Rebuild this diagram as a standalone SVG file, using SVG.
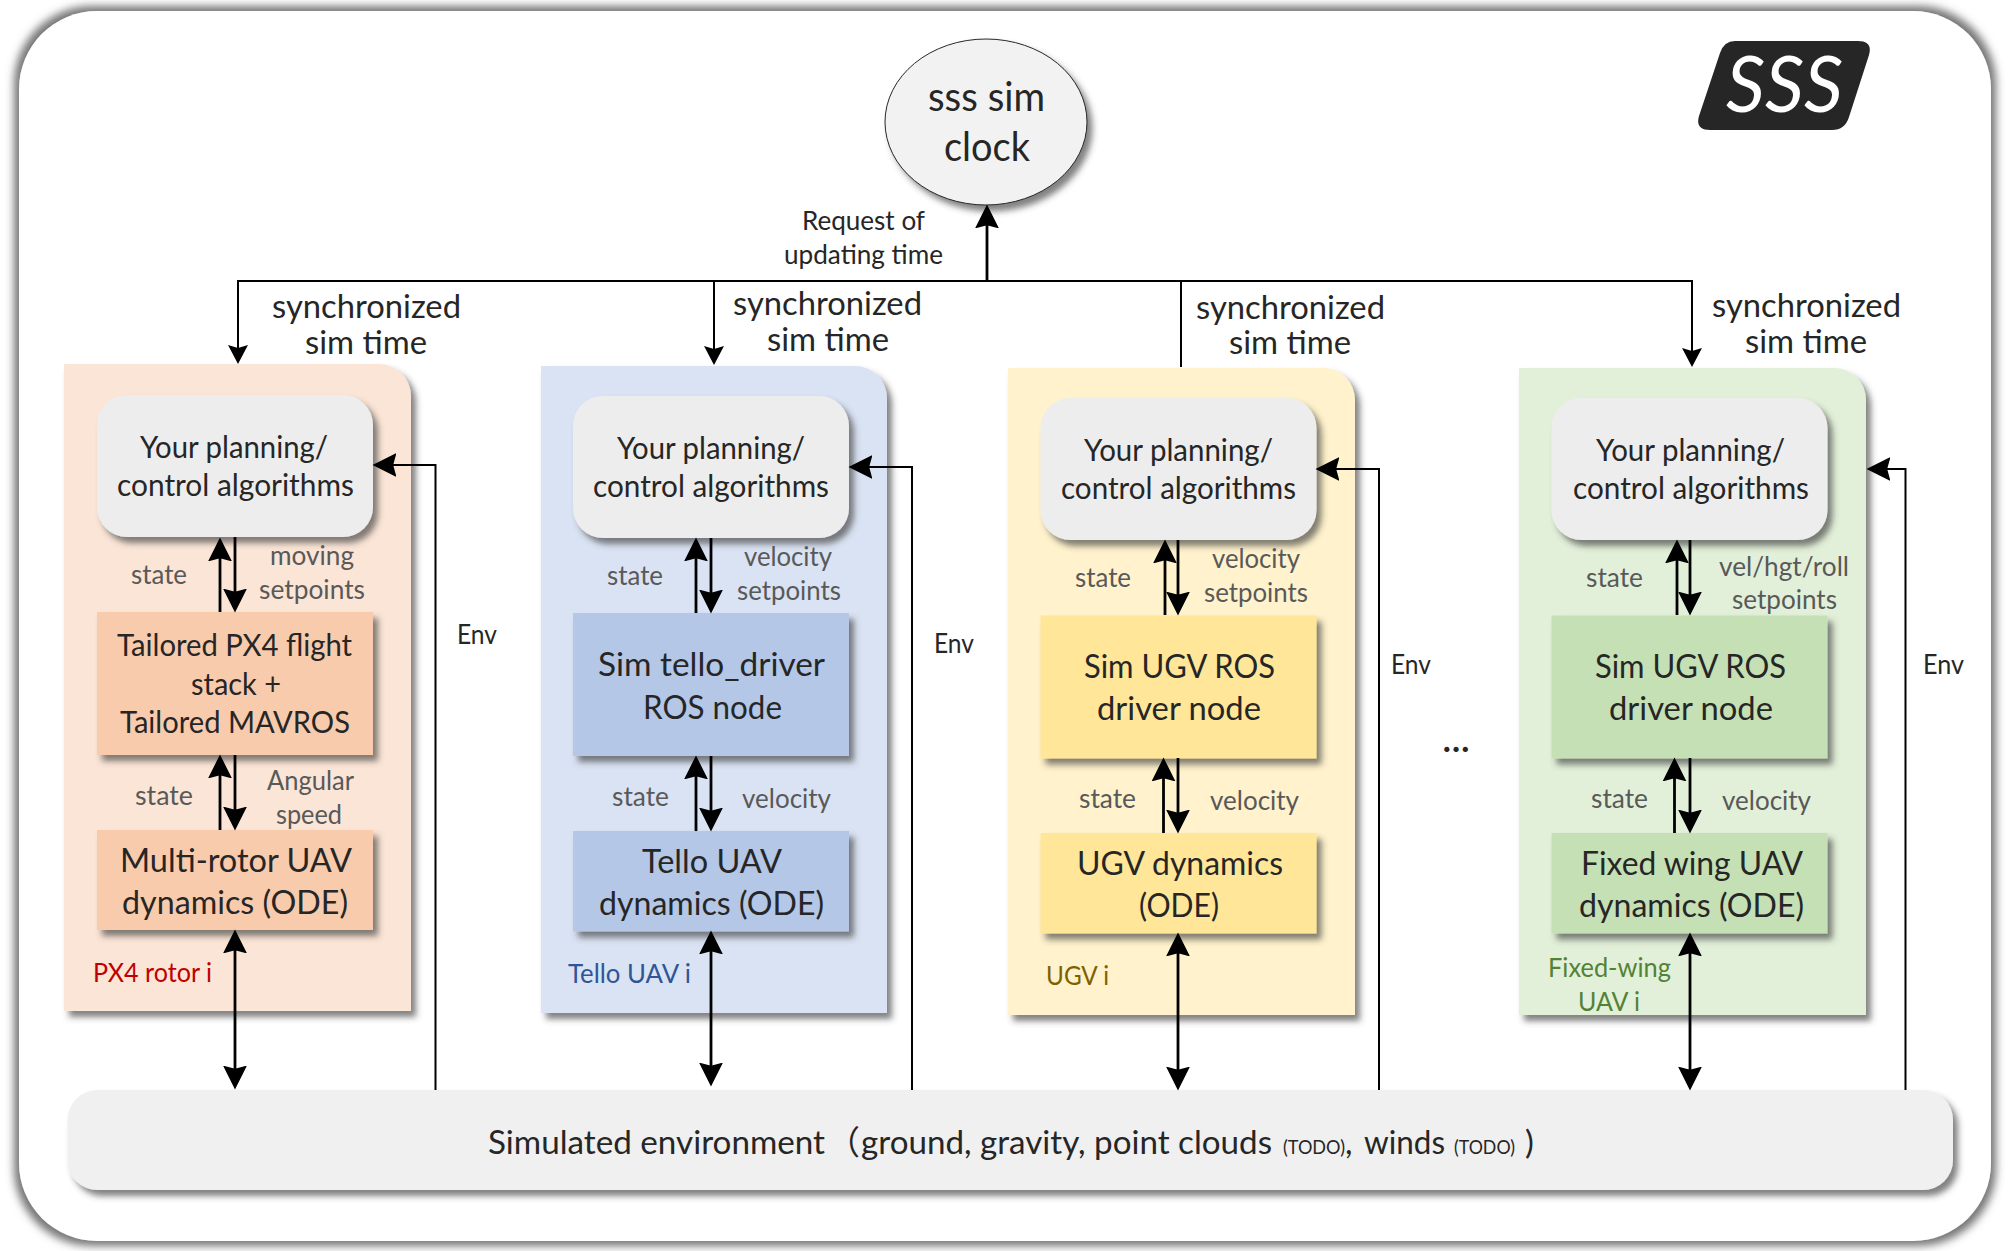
<svg xmlns="http://www.w3.org/2000/svg" width="2009" height="1251" viewBox="0 0 2009 1251">
<style>
text{font-family:Lato,"Noto Sans CJK SC",sans-serif;fill:#262626;transform:translateY(1px)}
.clk{font-size:40px}
.req{font-size:26.5px}
.syn{font-size:32.5px}
.alg{font-size:30.5px}
.lbl{font-size:27px;fill:#595959}
.box{font-size:33.5px}
.tl{font-size:31px}
.env{font-size:26px}
.tag{font-size:26.5px}
.bot{font-size:33px}
.todo{font-size:19px}
.sh{filter:url(#sh)}
.alg-box{fill:#ededed}
.thin{fill:none;stroke:#000;stroke-width:2}
.bold{fill:none;stroke:#000;stroke-width:2.8}
.a{marker-end:url(#big)}
.b{marker-end:url(#big);marker-start:url(#big)}
.s{marker-end:url(#small)}
</style>
<defs>
<filter id="outer" x="-3%" y="-3%" width="106%" height="106%"><feMorphology in="SourceAlpha" operator="dilate" radius="5" result="d"/><feGaussianBlur in="d" stdDeviation="4" result="b"/><feFlood flood-color="#6e6e6e" flood-opacity="0.95"/><feComposite in2="b" operator="in" result="s"/><feMerge><feMergeNode in="s"/><feMergeNode in="SourceGraphic"/></feMerge></filter>
<filter id="sh" x="-10%" y="-10%" width="125%" height="125%"><feDropShadow dx="5" dy="6" stdDeviation="3" flood-color="#404040" flood-opacity="0.65"/></filter>
<marker id="big" markerUnits="userSpaceOnUse" markerWidth="24" markerHeight="24" viewBox="0 0 22 22" refX="16" refY="11" orient="auto-start-reverse"><path d="M0 0L22 11L0 22L3 11z" fill="#000"/></marker>
<marker id="small" markerUnits="userSpaceOnUse" markerWidth="20" markerHeight="20" viewBox="0 0 19 20" refX="13" refY="10" orient="auto"><path d="M0 0L19 10L0 20L3 10z" fill="#000"/></marker>
</defs>

<rect id="frame" x="19" y="11" width="1972" height="1230" rx="78" fill="#fff" filter="url(#outer)"/>

<g id="logo">
<path d="M1735 41H1858Q1873 41 1869 55L1849 117Q1845 130 1832 130H1710Q1695 130 1699 116L1720 53Q1724 41 1735 41z" fill="#262626"/>
<text x="1726" y="111" font-size="78" font-style="italic" textLength="117" lengthAdjust="spacingAndGlyphs" style="fill:#fff">SSS</text>
</g>

<g id="clock">
<ellipse class="sh" cx="986" cy="122" rx="101" ry="83" fill="#f2f2f2" stroke="#262626" stroke-width="1"/>
<text class="clk" x="928" y="110" textLength="117" lengthAdjust="spacingAndGlyphs">sss sim</text>
<text class="clk" x="944" y="160" textLength="86" lengthAdjust="spacingAndGlyphs">clock</text>
</g>

<g id="panel-px4">
<path class="sh" d="M64 364H379A32 32 0 0 1 411 396V1011H64z" fill="#fbe5d6"/>
<text class="tag" x="93" y="981" textLength="119" lengthAdjust="spacingAndGlyphs" style="fill:#c00000">PX4 rotor i</text>
</g>
<g id="panel-tello">
<path class="sh" d="M541 366H855A32 32 0 0 1 887 398V1013H541z" fill="#dae3f3"/>
<text class="tag" x="568" y="982" textLength="123" lengthAdjust="spacingAndGlyphs" style="fill:#2f5597">Tello UAV i</text>
</g>
<g id="panel-ugv">
<path class="sh" d="M1008 368H1323A32 32 0 0 1 1355 400V1015H1008z" fill="#fff2cc"/>
<text class="tag" x="1046" y="984" textLength="63" lengthAdjust="spacingAndGlyphs" style="fill:#7f6000">UGV i</text>
</g>
<g id="panel-fw">
<path class="sh" d="M1519 368H1834A32 32 0 0 1 1866 400V1015H1519z" fill="#e2f0d9"/>
<text class="tag" x="1548" y="976" textLength="123" lengthAdjust="spacingAndGlyphs" style="fill:#548235">Fixed-wing</text>
<text class="tag" x="1578" y="1010" textLength="62" lengthAdjust="spacingAndGlyphs" style="fill:#548235">UAV i</text>
</g>

<g id="algo-px4">
<rect class="sh alg-box" x="97" y="395" width="276" height="142" rx="30"/>
<text class="alg" x="140" y="457" textLength="188" lengthAdjust="spacingAndGlyphs">Your planning/</text>
<text class="alg" x="117" y="495" textLength="237" lengthAdjust="spacingAndGlyphs">control algorithms</text>
</g>
<g id="algo-tello">
<rect class="sh alg-box" x="573" y="396" width="276" height="142" rx="30"/>
<text class="alg" x="617" y="458" textLength="188" lengthAdjust="spacingAndGlyphs">Your planning/</text>
<text class="alg" x="593" y="496" textLength="236" lengthAdjust="spacingAndGlyphs">control algorithms</text>
</g>
<g id="algo-ugv">
<rect class="sh alg-box" x="1040.5" y="398" width="276" height="142" rx="30"/>
<text class="alg" x="1084" y="460" textLength="189" lengthAdjust="spacingAndGlyphs">Your planning/</text>
<text class="alg" x="1061" y="498" textLength="235" lengthAdjust="spacingAndGlyphs">control algorithms</text>
</g>
<g id="algo-fw">
<rect class="sh alg-box" x="1551.5" y="398" width="276" height="142" rx="30"/>
<text class="alg" x="1596" y="460" textLength="189" lengthAdjust="spacingAndGlyphs">Your planning/</text>
<text class="alg" x="1573" y="498" textLength="236" lengthAdjust="spacingAndGlyphs">control algorithms</text>
</g>

<g id="driver-px4">
<rect class="sh" x="97" y="612" width="276" height="143" fill="#f8cbad"/>
<text class="tl" x="117" y="655" textLength="235" lengthAdjust="spacingAndGlyphs">Tailored PX4 flight</text>
<text class="tl" x="191" y="694" textLength="90" lengthAdjust="spacingAndGlyphs">stack +</text>
<text class="tl" x="120" y="732" textLength="230" lengthAdjust="spacingAndGlyphs">Tailored MAVROS</text>
</g>
<g id="driver-tello">
<rect class="sh" x="573" y="613" width="276" height="143" fill="#b4c7e7"/>
<text class="box" x="598" y="675" textLength="227" lengthAdjust="spacingAndGlyphs">Sim tello_driver</text>
<text class="box" x="643" y="718" textLength="139" lengthAdjust="spacingAndGlyphs">ROS node</text>
</g>
<g id="driver-ugv">
<rect class="sh" x="1040.5" y="615.5" width="276" height="143" fill="#ffe699"/>
<text class="box" x="1084" y="677" textLength="191" lengthAdjust="spacingAndGlyphs">Sim UGV ROS</text>
<text class="box" x="1097" y="719" textLength="164" lengthAdjust="spacingAndGlyphs">driver node</text>
</g>
<g id="driver-fw">
<rect class="sh" x="1551.5" y="615.5" width="276" height="143" fill="#c5e0b4"/>
<text class="box" x="1595" y="677" textLength="191" lengthAdjust="spacingAndGlyphs">Sim UGV ROS</text>
<text class="box" x="1609" y="719" textLength="164" lengthAdjust="spacingAndGlyphs">driver node</text>
</g>

<g id="dyn-px4">
<rect class="sh" x="97" y="830" width="276" height="100" fill="#f8cbad"/>
<text class="box" x="120" y="871" textLength="232" lengthAdjust="spacingAndGlyphs">Multi-rotor UAV</text>
<text class="box" x="122" y="913" textLength="226" lengthAdjust="spacingAndGlyphs">dynamics (ODE)</text>
</g>
<g id="dyn-tello">
<rect class="sh" x="573" y="831" width="276" height="100.500" fill="#b4c7e7"/>
<text class="box" x="642" y="871.500" textLength="140" lengthAdjust="spacingAndGlyphs">Tello UAV</text>
<text class="box" x="599" y="914" textLength="225" lengthAdjust="spacingAndGlyphs">dynamics (ODE)</text>
</g>
<g id="dyn-ugv">
<rect class="sh" x="1040.5" y="833" width="276" height="100.500" fill="#ffe699"/>
<text class="box" x="1077" y="874" textLength="206" lengthAdjust="spacingAndGlyphs">UGV dynamics</text>
<text class="box" x="1139" y="916" textLength="80" lengthAdjust="spacingAndGlyphs">(ODE)</text>
</g>
<g id="dyn-fw">
<rect class="sh" x="1551.5" y="833" width="276" height="100.500" fill="#c5e0b4"/>
<text class="box" x="1581" y="874" textLength="222" lengthAdjust="spacingAndGlyphs">Fixed wing UAV</text>
<text class="box" x="1579" y="916" textLength="225" lengthAdjust="spacingAndGlyphs">dynamics (ODE)</text>
</g>

<g id="environment">
<rect class="sh" x="67.500" y="1090" width="1885.500" height="100" rx="30" fill="#f0f0f0"/>
<text class="bot" y="1153"><tspan x="488" textLength="337" lengthAdjust="spacingAndGlyphs">Simulated environment</tspan><tspan x="827">（</tspan><tspan x="861" textLength="411" lengthAdjust="spacingAndGlyphs">ground, gravity, point clouds</tspan> <tspan class="todo" x="1283" textLength="62" lengthAdjust="spacingAndGlyphs">(TODO)</tspan><tspan x="1345">,</tspan> <tspan x="1364" textLength="81" lengthAdjust="spacingAndGlyphs">winds</tspan> <tspan class="todo" x="1454" textLength="61" lengthAdjust="spacingAndGlyphs">(TODO)</tspan> <tspan x="1525">)</tspan></text>
</g>

<g id="connectors">
<path class="thin" d="M238 358V281H1692V361" style="marker-end:url(#small)"/>
<path class="bold" d="M987 281V211" style="marker-end:url(#big)"/>
<path class="thin" d="M714 281V359" style="marker-end:url(#small)"/>
<path class="thin" d="M1181 281V367"/>
<path class="thin" d="M238 281V358" style="marker-end:url(#small)"/>

<path class="bold a" d="M220 612V544"/><path class="bold a" d="M235 537V606"/>
<path class="bold a" d="M220 830V761"/><path class="bold a" d="M235 755V824"/>
<path class="bold b" d="M235 936V1083"/>
<path class="thin" d="M435.500 1090V465H379" style="marker-end:url(#big)"/>

<path class="bold a" d="M696 613V544"/><path class="bold a" d="M711 538V607"/>
<path class="bold a" d="M696 831V762"/><path class="bold a" d="M711 756V825"/>
<path class="bold b" d="M711 937V1080"/>
<path class="thin" d="M912 1090V467H855" style="marker-end:url(#big)"/>

<path class="bold a" d="M1165 615V546"/><path class="bold a" d="M1178 540V609"/>
<path class="bold a" d="M1163.500 833V764"/><path class="bold a" d="M1178 758V827"/>
<path class="bold b" d="M1178 939V1084"/>
<path class="thin" d="M1379 1090V469H1322" style="marker-end:url(#big)"/>

<path class="bold a" d="M1677 615V546"/><path class="bold a" d="M1690 540V609"/>
<path class="bold a" d="M1674.500 833V764"/><path class="bold a" d="M1690 758V827"/>
<path class="bold b" d="M1690 939V1084"/>
<path class="thin" d="M1905.500 1090V469H1873" style="marker-end:url(#big)"/>
</g>

<g id="labels">
<text class="req" x="802" y="229" textLength="123" lengthAdjust="spacingAndGlyphs">Request of</text>
<text class="req" x="784" y="263" textLength="159" lengthAdjust="spacingAndGlyphs">updating time</text>

<text class="syn" x="272" y="317" textLength="189" lengthAdjust="spacingAndGlyphs">synchronized</text>
<text class="syn" x="305" y="353" textLength="122" lengthAdjust="spacingAndGlyphs">sim time</text>
<text class="syn" x="733" y="314" textLength="189" lengthAdjust="spacingAndGlyphs">synchronized</text>
<text class="syn" x="767" y="350" textLength="122" lengthAdjust="spacingAndGlyphs">sim time</text>
<text class="syn" x="1196" y="318" textLength="189" lengthAdjust="spacingAndGlyphs">synchronized</text>
<text class="syn" x="1229" y="353" textLength="122" lengthAdjust="spacingAndGlyphs">sim time</text>
<text class="syn" x="1712" y="316" textLength="189" lengthAdjust="spacingAndGlyphs">synchronized</text>
<text class="syn" x="1745" y="352" textLength="122" lengthAdjust="spacingAndGlyphs">sim time</text>

<text class="lbl" x="131" y="583" textLength="56" lengthAdjust="spacingAndGlyphs">state</text>
<text class="lbl" x="270" y="564" textLength="84" lengthAdjust="spacingAndGlyphs">moving</text>
<text class="lbl" x="259" y="598" textLength="106" lengthAdjust="spacingAndGlyphs">setpoints</text>
<text class="lbl" x="135" y="804" textLength="58" lengthAdjust="spacingAndGlyphs">state</text>
<text class="lbl" x="267" y="789" textLength="87" lengthAdjust="spacingAndGlyphs">Angular</text>
<text class="lbl" x="276" y="823" textLength="66" lengthAdjust="spacingAndGlyphs">speed</text>

<text class="lbl" x="607" y="584" textLength="56" lengthAdjust="spacingAndGlyphs">state</text>
<text class="lbl" x="744" y="565" textLength="88" lengthAdjust="spacingAndGlyphs">velocity</text>
<text class="lbl" x="737" y="599" textLength="104" lengthAdjust="spacingAndGlyphs">setpoints</text>
<text class="lbl" x="612" y="805" textLength="57" lengthAdjust="spacingAndGlyphs">state</text>
<text class="lbl" x="742" y="807" textLength="89" lengthAdjust="spacingAndGlyphs">velocity</text>

<text class="lbl" x="1075" y="586" textLength="56" lengthAdjust="spacingAndGlyphs">state</text>
<text class="lbl" x="1212" y="567" textLength="88" lengthAdjust="spacingAndGlyphs">velocity</text>
<text class="lbl" x="1204" y="601" textLength="104" lengthAdjust="spacingAndGlyphs">setpoints</text>
<text class="lbl" x="1079" y="807" textLength="57" lengthAdjust="spacingAndGlyphs">state</text>
<text class="lbl" x="1210" y="809" textLength="89" lengthAdjust="spacingAndGlyphs">velocity</text>

<text class="lbl" x="1586" y="586" textLength="57" lengthAdjust="spacingAndGlyphs">state</text>
<text class="lbl" x="1719" y="575" textLength="130" lengthAdjust="spacingAndGlyphs">vel/hgt/roll</text>
<text class="lbl" x="1732" y="608" textLength="105" lengthAdjust="spacingAndGlyphs">setpoints</text>
<text class="lbl" x="1591" y="807" textLength="57" lengthAdjust="spacingAndGlyphs">state</text>
<text class="lbl" x="1722" y="809" textLength="89" lengthAdjust="spacingAndGlyphs">velocity</text>

<text class="env" x="457" y="643" textLength="40" lengthAdjust="spacingAndGlyphs">Env</text>
<text class="env" x="934" y="652" textLength="40" lengthAdjust="spacingAndGlyphs">Env</text>
<text class="env" x="1391" y="673" textLength="40" lengthAdjust="spacingAndGlyphs">Env</text>
<text class="env" x="1923" y="673" textLength="41" lengthAdjust="spacingAndGlyphs">Env</text>
<text x="1443" y="751" font-size="32" font-weight="900" textLength="26" lengthAdjust="spacing">...</text>
</g>
</svg>
